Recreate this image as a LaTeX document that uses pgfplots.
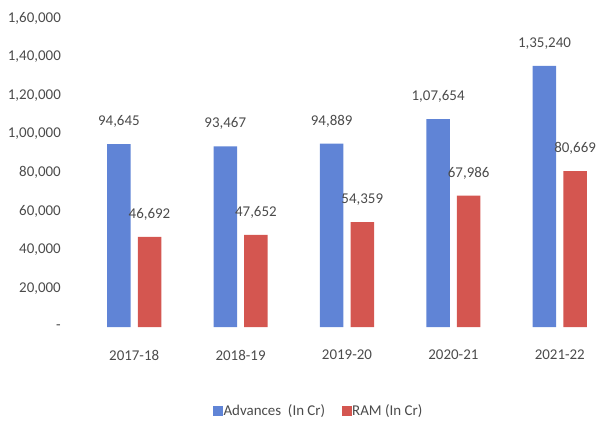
\documentclass[border=0pt]{standalone}
\usepackage{pgfplots}
\pgfplotsset{compat=1.18}
\usepackage{pgfplotstable}
\usepackage{fontspec}
\setmainfont{Carlito}
\definecolor{advblue}{RGB}{96,132,214}
\definecolor{ramred}{RGB}{212,86,80}
\definecolor{txt}{RGB}{75,75,75}
\pgfplotstableread{
x y lab
0 94645 94,645
1 93467 93,467
2 94889 94,889
3 107654 1,07,654
4 135240 1,35,240
}\adv
\pgfplotstableread{
x y lab
0 46692 46,692
1 47652 47,652
2 54359 54,359
3 67986 67,986
4 80669 80,669
}\ram
\begin{document}
\begin{tikzpicture}[x=1bp,y=1bp]
\path (0,0) rectangle (597,420);
\begin{axis}[
  at={(81bp,93bp)}, anchor=south west,
  scale only axis, width=510.7bp, height=309bp,
  xmin=-0.5, xmax=4.3, ymin=0, ymax=160000,
  axis line style={draw=none},
  major tick length=0pt,
  xtick={0,1,2,3,4},
  xticklabels={2017-18,2018-19,2019-20,2020-21,2021-22},
  ytick={0,20000,40000,60000,80000,100000,120000,140000,160000},
  yticklabels={{-},{20,000},{40,000},{60,000},{80,000},{1,00,000},{1,20,000},{1,40,000},{1,60,000}},
  scaled y ticks=false,
  tick label style={font=\fontsize{15}{17}\selectfont, text=txt},
  yticklabel style={anchor=east, inner sep=0pt, xshift=-20bp},
  xticklabel style={anchor=center, inner sep=0pt, yshift=-28bp},
  ybar, bar width=23.5bp,
  nodes near coords,
  point meta=explicit symbolic,
  every node near coord/.append style={font=\fontsize{15}{17}\selectfont, text=txt, anchor=south, inner sep=0pt, yshift=16.5bp},
  legend style={at={(0.464,-0.272)}, anchor=center, draw=none, legend columns=2,
    font=\fontsize{15}{17}\selectfont, text=txt, inner sep=0pt,
    /tikz/every odd column/.append style={column sep=0bp},
    /tikz/every even column/.append style={column sep=16bp},
    nodes={inner sep=0.5bp}},
  legend image code/.code={\fill[#1] (0bp,-5bp) rectangle (10bp,5bp);},
]
\addplot[fill=ramred, draw=none, bar shift=15.3bp, forget plot]
  table[x=x, y=y, meta=lab]{\ram};
\addplot[fill=advblue, draw=none, bar shift=-15.3bp, forget plot]
  table[x=x, y=y, meta=lab]{\adv};
\addlegendimage{fill=advblue, draw=none}
\addlegendentry{Advances\ \ (In Cr)}
\addlegendimage{fill=ramred, draw=none}
\addlegendentry{RAM (In Cr)}
\end{axis}
\end{tikzpicture}
\end{document}
